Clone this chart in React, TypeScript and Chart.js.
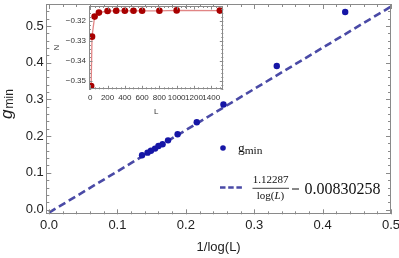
import React, { useEffect, useRef } from 'react';
import { Chart, registerables } from 'chart.js';

Chart.register(...registerables);

// ---- main plot data ----
const invLogL = [0.433, 0.333, 0.255, 0.216, 0.188, 0.174, 0.166, 0.16, 0.155, 0.149, 0.144, 0.136];
const gMin = [0.538, 0.391, 0.286, 0.238, 0.205, 0.1885, 0.178, 0.173, 0.166, 0.16, 0.155, 0.148];
const fitX = [0, 0.5];
const fitY = [-0.0083, 0.5531];

// ---- inset data ----
const sizesL = [10, 20, 50, 100, 200, 300, 400, 500, 600, 800, 1000, 1500];
const insetN = [-0.3527, -0.328, -0.318, -0.316, -0.3152, -0.3151, -0.3151, -0.3151, -0.3151, -0.3151, -0.3149, -0.315];

const SANS = '"Liberation Sans", Arial, Helvetica, sans-serif';
const SERIF = '"Liberation Serif", "Times New Roman", serif';
const FRAME = '#8a8a8a';
const DOT_BLUE = '#1616a6';
const LINE_BLUE = '#4a4aa6';

function fixBox(width?: number, height?: number) {
  return (scale: any) => {
    if (width !== undefined) scale.width = width;
    if (height !== undefined) scale.height = height;
    scale.paddingLeft = 0;
    scale.paddingRight = 0;
    scale.paddingTop = 0;
    scale.paddingBottom = 0;
  };
}

function frameTicksPlugin(o: { xMajor: number; xMinor: number; yMajor: number; yMinor: number; major: number; minor: number }) {
  return {
    id: 'frameTicks',
    afterDraw(chart: any) {
      const { ctx, chartArea: a, scales } = chart;
      const xs = scales.x;
      const ys = scales.y;
      ctx.save();
      ctx.strokeStyle = FRAME;
      ctx.lineWidth = 1;
      ctx.strokeRect(Math.round(a.left) + 0.5, Math.round(a.top) + 0.5, Math.round(a.right) - Math.round(a.left) - 1, Math.round(a.bottom) - Math.round(a.top) - 1);
      const run = (scale: any, minor: number, major: number, horiz: boolean) => {
        const n0 = Math.ceil(scale.min / minor - 1e-9);
        const n1 = Math.floor(scale.max / minor + 1e-9);
        ctx.beginPath();
        for (let n = n0; n <= n1; n++) {
          const v = n * minor;
          const r = v / major;
          const isMajor = Math.abs(r - Math.round(r)) < 1e-6;
          const len = isMajor ? o.major : o.minor;
          const p = Math.round(scale.getPixelForValue(v)) + 0.5;
          if (horiz) {
            ctx.moveTo(p, a.bottom);
            ctx.lineTo(p, a.bottom - len);
            ctx.moveTo(p, a.top);
            ctx.lineTo(p, a.top + len);
          } else {
            ctx.moveTo(a.left, p);
            ctx.lineTo(a.left + len, p);
            ctx.moveTo(a.right, p);
            ctx.lineTo(a.right - len, p);
          }
        }
        ctx.stroke();
      };
      run(xs, o.xMinor, o.xMajor, true);
      run(ys, o.yMinor, o.yMajor, false);
      ctx.restore();
    },
  };
}

const mainTextPlugin = {
  id: 'mainText',
  afterDraw(chart: any) {
    const { ctx, chartArea: a } = chart;
    ctx.save();
    // x title
    ctx.fillStyle = '#222';
    ctx.font = `13px ${SANS}`;
    ctx.textAlign = 'center';
    ctx.textBaseline = 'middle';
    ctx.fillText('1/log(L)', (a.left + a.right) / 2, 247);

    // y title g_min rotated
    ctx.save();
    ctx.translate(11.5, 104);
    ctx.rotate(-Math.PI / 2);
    ctx.textAlign = 'left';
    ctx.textBaseline = 'alphabetic';
    ctx.font = `italic 17px ${SANS}`;
    const gw = ctx.measureText('g').width;
    ctx.font = `12px ${SANS}`;
    const mw = ctx.measureText('min').width;
    const tot = gw + 1 + mw;
    ctx.font = `italic 17px ${SANS}`;
    ctx.fillText('g', -tot / 2, 0);
    ctx.font = `12px ${SANS}`;
    ctx.fillText('min', -tot / 2 + gw + 1, 1.5);
    ctx.restore();

    // legend: dot
    ctx.fillStyle = DOT_BLUE;
    ctx.beginPath();
    ctx.arc(223, 148, 2.8, 0, Math.PI * 2);
    ctx.fill();
    ctx.fillStyle = '#111';
    ctx.textAlign = 'left';
    ctx.textBaseline = 'alphabetic';
    ctx.font = `13.5px ${SERIF}`;
    const lg = ctx.measureText('g').width;
    ctx.fillText('g', 238, 152);
    ctx.font = `11.4px ${SERIF}`;
    ctx.fillText('min', 238 + lg, 154);

    // legend: dashed line sample
    ctx.strokeStyle = LINE_BLUE;
    ctx.lineWidth = 2.5;
    ctx.setLineDash([5.5, 2.7]);
    ctx.beginPath();
    ctx.moveTo(220, 187.5);
    ctx.lineTo(242, 187.5);
    ctx.stroke();
    ctx.setLineDash([]);

    // fraction
    ctx.fillStyle = '#111';
    ctx.font = `11px ${SERIF}`;
    ctx.textAlign = 'center';
    ctx.fillText('1.12287', 270.5, 182.5);
    ctx.strokeStyle = '#111';
    ctx.lineWidth = 0.8;
    ctx.beginPath();
    ctx.moveTo(252.5, 188.3);
    ctx.lineTo(289, 188.3);
    ctx.stroke();
    // denominator log(L) with italic L
    ctx.textAlign = 'left';
    ctx.font = `11px ${SERIF}`;
    const w1 = ctx.measureText('log(').width;
    const w3 = ctx.measureText(')').width;
    ctx.font = `italic 11px ${SERIF}`;
    const w2 = ctx.measureText('L').width;
    let dx = 270.5 - (w1 + w2 + w3) / 2;
    ctx.font = `11px ${SERIF}`;
    ctx.fillText('log(', dx, 198.5);
    dx += w1;
    ctx.font = `italic 11px ${SERIF}`;
    ctx.fillText('L', dx, 198.5);
    dx += w2;
    ctx.font = `11px ${SERIF}`;
    ctx.fillText(')', dx, 198.5);

    // minus sign and constant
    ctx.lineWidth = 1;
    ctx.beginPath();
    ctx.moveTo(292, 189);
    ctx.lineTo(299, 189);
    ctx.stroke();
    ctx.font = `16px ${SERIF}`;
    ctx.textAlign = 'left';
    ctx.fillText('0.00830258', 304.5, 194);
    ctx.restore();
  },
};

const insetTextPlugin = {
  id: 'insetText',
  afterDraw(chart: any) {
    const { ctx, chartArea: a } = chart;
    ctx.save();
    ctx.fillStyle = '#333';
    ctx.font = `8px ${SANS}`;
    ctx.textAlign = 'center';
    ctx.textBaseline = 'middle';
    ctx.fillText('L', (a.left + a.right) / 2, 112);
    ctx.translate(7, (a.top + a.bottom) / 2);
    ctx.rotate(-Math.PI / 2);
    ctx.fillText('N', 0, 0);
    ctx.restore();
  },
};

export default function App() {
  const mainRef = useRef<HTMLCanvasElement>(null);
  const insetRef = useRef<HTMLCanvasElement>(null);

  useEffect(() => {
    document.body.style.margin = '0';
    const main = new Chart(mainRef.current as HTMLCanvasElement, {
      type: 'scatter',
      data: {
        datasets: [
          {
            label: 'fit',
            data: fitX.map((x, i) => ({ x, y: fitY[i] })),
            showLine: true,
            borderColor: LINE_BLUE,
            borderWidth: 2.6,
            borderDash: [7.5, 4],
            pointRadius: 0,
            order: 2,
          } as any,
          {
            label: 'gmin',
            data: invLogL.map((x, i) => ({ x, y: gMin[i] })),
            backgroundColor: DOT_BLUE,
            borderWidth: 0,
            pointRadius: 3.2,
            order: 1,
          },
        ],
      },
      options: {
        animation: false,
        responsive: false,
        events: [],
        layout: { padding: { left: 0, top: 1, right: 8, bottom: 0 } },
        plugins: { legend: { display: false }, tooltip: { enabled: false } },
        scales: {
          x: {
            type: 'linear',
            min: -0.004,
            max: 0.5,
            grid: { display: false, drawTicks: false },
            border: { display: false },
            afterFit: fixBox(undefined, 43.7),
            ticks: {
              stepSize: 0.1,
              includeBounds: false,
              autoSkip: false,
              maxRotation: 0,
              padding: 3,
              color: '#222',
              font: { family: SANS, size: 13 },
              callback: (v: any) => Number(v).toFixed(1),
            },
          },
          y: {
            type: 'linear',
            min: -0.013,
            max: 0.56,
            grid: { display: false, drawTicks: false },
            border: { display: false },
            afterFit: fixBox(46.3, undefined),
            ticks: {
              stepSize: 0.1,
              includeBounds: false,
              padding: 2.5,
              color: '#222',
              font: { family: SANS, size: 13 },
              callback: (v: any) => Number(v).toFixed(1),
            },
          },
        },
      },
      plugins: [frameTicksPlugin({ xMajor: 0.1, xMinor: 0.02, yMajor: 0.1, yMinor: 0.02, major: 5, minor: 3 }), mainTextPlugin],
    });

    const inset = new Chart(insetRef.current as HTMLCanvasElement, {
      type: 'scatter',
      data: {
        datasets: [
          {
            label: 'N',
            data: sizesL.map((x, i) => ({ x, y: insetN[i] })),
            showLine: true,
            borderColor: 'rgba(222,120,120,0.9)',
            borderWidth: 1.3,
            backgroundColor: '#a80000',
            pointBackgroundColor: '#a80000',
            pointBorderWidth: 0,
            pointRadius: 3.3,
          } as any,
        ],
      },
      options: {
        animation: false,
        responsive: false,
        events: [],
        layout: { padding: { left: 0, top: 6, right: 6.7, bottom: 0 } },
        plugins: { legend: { display: false }, tooltip: { enabled: false } },
        scales: {
          x: {
            type: 'linear',
            min: -15,
            max: 1540,
            grid: { display: false, drawTicks: false },
            border: { display: false },
            afterFit: fixBox(undefined, 32.7),
            ticks: {
              stepSize: 200,
              includeBounds: false,
              autoSkip: false,
              maxRotation: 0,
              padding: 4,
              color: '#333',
              font: { family: SANS, size: 8 },
              callback: (v: any) => String(Math.round(Number(v))),
            },
          },
          y: {
            type: 'linear',
            min: -0.3543,
            max: -0.3127,
            grid: { display: false, drawTicks: false },
            border: { display: false },
            afterFit: fixBox(39, undefined),
            ticks: {
              stepSize: 0.01,
              includeBounds: false,
              padding: 3,
              color: '#333',
              font: { family: SANS, size: 8 },
              callback: (v: any) => {
                const n = Number(v);
                return (n < 0 ? '\u2212' : '') + Math.abs(n).toFixed(2);
              },
            },
          },
        },
      },
      plugins: [frameTicksPlugin({ xMajor: 200, xMinor: 50, yMajor: 0.01, yMinor: 0.002, major: 3.5, minor: 2 }), insetTextPlugin],
    });

    return () => {
      main.destroy();
      inset.destroy();
    };
  }, []);

  return (
    <div style={{ position: 'relative', width: 399, height: 258, background: '#fff' }}>
      <canvas ref={mainRef} width={399} height={258} style={{ position: 'absolute', left: 0, top: 0, width: 399, height: 258 }} />
      <canvas ref={insetRef} width={180} height={122} style={{ position: 'absolute', left: 50, top: 0, width: 180, height: 122 }} />
    </div>
  );
}
